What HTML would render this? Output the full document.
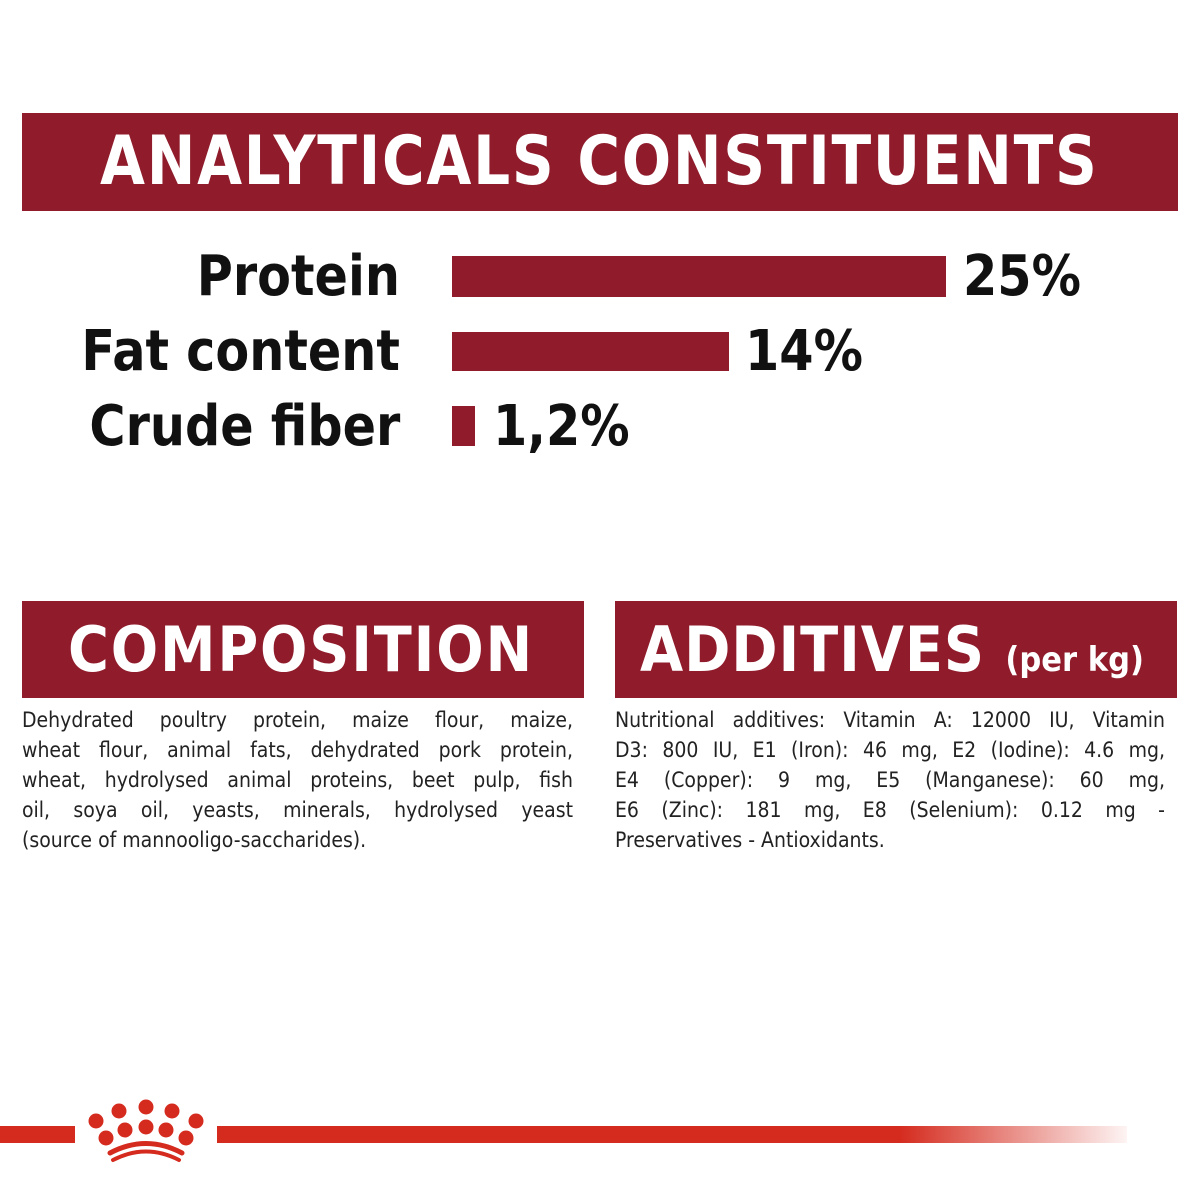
<!DOCTYPE html>
<html><head><style>
body{margin:0;width:1200px;height:1200px;background:#fff;position:relative;overflow:hidden;font-family:"DejaVu Sans","Liberation Sans",sans-serif}
.ban{position:absolute;background:#8f1b2b;color:#fff;font-weight:bold;white-space:nowrap}
.bt{position:absolute;top:0;white-space:nowrap;transform-origin:0 50%}
.lbl{position:absolute;right:800px;font-size:56px;font-weight:bold;color:#111;line-height:1;white-space:nowrap;transform:scaleX(0.88);transform-origin:100% 50%}
.bar{position:absolute;background:#8f1b2b}
.val{position:absolute;font-size:56px;font-weight:bold;color:#111;line-height:1;transform:scaleX(0.88);transform-origin:0 50%}
.txt{position:absolute;font-size:21px;line-height:30px;color:#222;font-family:"DejaVu Sans Condensed","DejaVu Sans",sans-serif}
.txt div{text-align:justify;text-align-last:justify;white-space:nowrap}
.txt div.l{text-align-last:left}
</style></head><body>
<div class="ban" style="left:22px;top:113px;width:1156px;height:98px;font-size:68px;line-height:98px"><span class="bt" style="left:78px;transform:scaleX(0.855);letter-spacing:2px">ANALYTICALS CONSTITUENTS</span></div>
<div class="lbl" style="top:249px">Protein</div>
<div class="lbl" style="top:324px">Fat content</div>
<div class="lbl" style="top:399px">Crude fiber</div>
<div class="bar" style="left:452px;top:256px;width:494px;height:41px"></div>
<div class="bar" style="left:452px;top:332px;width:277px;height:39px"></div>
<div class="bar" style="left:452px;top:406px;width:23px;height:40px"></div>
<div class="val" style="left:963px;top:249px">25%</div>
<div class="val" style="left:745px;top:324px">14%</div>
<div class="val" style="left:493px;top:399px">1,2%</div>
<div class="ban" style="left:22px;top:601px;width:562px;height:97px;font-size:62px;line-height:97px"><span class="bt" style="left:46px;transform:scaleX(0.9);letter-spacing:2px">COMPOSITION</span></div>
<div class="ban" style="left:615px;top:601px;width:562px;height:97px;font-size:62px;line-height:97px"><span class="bt" style="left:25px;transform:scaleX(0.9);letter-spacing:1px">ADDITIVES <span style="font-size:34px;letter-spacing:0">(per kg)</span></span></div>
<div class="txt" style="left:22px;top:705px;width:551px">
<div>Dehydrated poultry protein, maize flour, maize,</div>
<div>wheat flour, animal fats, dehydrated pork protein,</div>
<div>wheat, hydrolysed animal proteins, beet pulp, fish</div>
<div>oil, soya oil, yeasts, minerals, hydrolysed yeast</div>
<div class="l">(source of mannooligo-saccharides).</div>
</div>
<div class="txt" style="left:615px;top:705px;width:550px">
<div>Nutritional additives: Vitamin A: 12000 IU, Vitamin</div>
<div>D3: 800 IU, E1 (Iron): 46 mg, E2 (Iodine): 4.6 mg,</div>
<div>E4 (Copper): 9 mg, E5 (Manganese): 60 mg,</div>
<div>E6 (Zinc): 181 mg, E8 (Selenium): 0.12 mg -</div>
<div class="l">Preservatives - Antioxidants.</div>
</div>
<div style="position:absolute;left:0;top:1126px;width:75px;height:17px;background:#d52b1e"></div>
<div style="position:absolute;left:217px;top:1126px;width:910px;height:17px;background:linear-gradient(to right,#d52b1e 0%,#d52b1e 75%,rgba(213,43,30,0.05) 100%)"></div>
<svg style="position:absolute;left:0;top:0" width="1200" height="1200">
<g fill="#d52b1e">
<circle cx="96" cy="1121" r="7.5"/><circle cx="119" cy="1111" r="7.5"/><circle cx="146" cy="1107" r="7.5"/><circle cx="172" cy="1111" r="7.5"/><circle cx="196" cy="1121" r="7.5"/>
<circle cx="106" cy="1138" r="7.5"/><circle cx="125" cy="1130" r="7.5"/><circle cx="146" cy="1127" r="7.5"/><circle cx="166" cy="1130" r="7.5"/><circle cx="186" cy="1138" r="7.5"/>
</g>
<path d="M110 1153 Q146 1134 182 1153" stroke="#d52b1e" stroke-width="5" fill="none" stroke-linecap="round"/>
<path d="M113 1160 Q146 1143 179 1160" stroke="#d52b1e" stroke-width="4" fill="none" stroke-linecap="round"/>
</svg>
</body></html>
